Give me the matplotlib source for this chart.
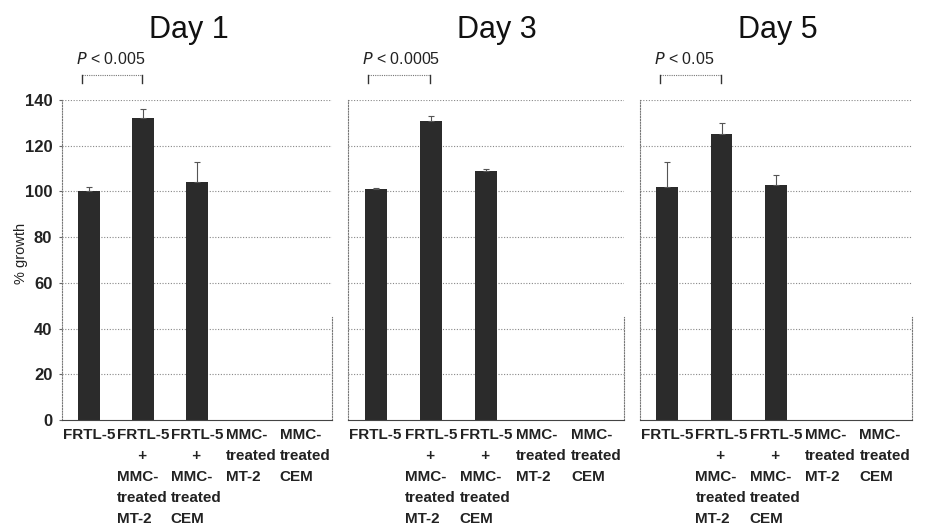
import matplotlib
matplotlib.use("Agg")
import matplotlib.pyplot as plt
import numpy as np

plt.rcParams['font.family'] = ['Liberation Sans', 'DejaVu Sans']

categories = ["FRTL-5", "FRTL-5\n     +\nMMC-\ntreated\nMT-2", "FRTL-5\n     +\nMMC-\ntreated\nCEM",
              "MMC-\ntreated\nMT-2", "MMC-\ntreated\nCEM"]
days = ["Day 1", "Day 3", "Day 5"]
values = {
    "Day 1": [100, 132, 104, 0, 0],
    "Day 3": [101, 131, 109, 0, 0],
    "Day 5": [102, 125, 103, 0, 0],
}
errors = {
    "Day 1": [2, 4, 9, 0, 0],
    "Day 3": [0.5, 2, 1, 0, 0],
    "Day 5": [11, 5, 4, 0, 0],
}
pvals = {"Day 1": "0.005", "Day 3": "0.0005", "Day 5": "0.05"}
yticks = [0, 20, 40, 60, 80, 100, 120, 140]

fig = plt.figure(figsize=(9.37, 5.27), dpi=100)
lefts = [62, 348, 640]
rights = [332, 624, 912]
title_x = [0.47, 0.54, 0.505]
W, H = 937, 527
bottom_px, top_px = 420, 100

x = np.arange(len(categories))
for i, day in enumerate(days):
    ax = fig.add_axes([lefts[i] / W, 1 - bottom_px / H,
                       (rights[i] - lefts[i]) / W, (bottom_px - top_px) / H])
    ax.set_xlim(-0.5, len(categories) - 0.5)
    ax.set_ylim(0, 140)
    ax.set_yticks(yticks)
    for yv in yticks[1:]:
        ax.axhline(yv, color='#888888', lw=0.8, ls=(0, (1, 1.5)), zorder=0)
    vals = values[day]
    errs = errors[day]
    ax.bar(x, vals, width=0.4, color='#2b2b2b', zorder=2)
    for xi, v, e in zip(x, vals, errs):
        if v > 0:
            ax.errorbar(xi, v, yerr=[[0], [e]], color='#555555', lw=0.8,
                        capsize=2, capthick=0.8, zorder=3)
    for sp in ax.spines.values():
        sp.set_linestyle((0, (1, 1.5)))
        sp.set_color('#777777')
        sp.set_linewidth(0.8)
    ax.spines['top'].set_visible(False)
    ax.spines['right'].set_bounds(0, 45)
    ax.spines['bottom'].set_linestyle('-')
    ax.spines['bottom'].set_color('#444444')
    ax.set_xticks(x)
    ax.set_xticklabels(categories, fontsize=11, fontweight='bold',
                       va='top', linespacing=1.62, color='#222222',
                       multialignment='left')
    ax.tick_params(axis='x', length=0, pad=6)
    if i == 0:
        ax.set_yticklabels([str(t) for t in yticks], fontsize=12, fontweight='bold',
                           color='#222222')
        ax.tick_params(axis='y', length=2, pad=5, color='#666666')
        ax.set_ylabel("% growth", fontsize=10.5, color='#222222', labelpad=6)
        ax.yaxis.set_label_coords(-0.125, 0.52)
    else:
        ax.set_yticklabels([])
        ax.tick_params(axis='y', length=0)
    ax.set_title(day, fontsize=22, pad=45, color='#111111', x=title_x[i])
    # significance bracket
    yb = 151
    xl, xr = -0.13, 0.98
    ax.plot([xl, xr], [yb, yb], color='#777777', lw=0.8, ls=(0, (1, 1)),
            clip_on=False)
    ax.plot([xl, xl], [yb - 3.5, yb], color='#333333', lw=1, clip_on=False)
    ax.plot([xr, xr], [yb - 3.5, yb], color='#333333', lw=1, clip_on=False)
    ax.text(-0.25, yb + 3.5, r"$P$ < " + pvals[day], fontsize=11.5, ha='left',
            va='bottom', color='#222222', clip_on=False)

fig.savefig("out.png", dpi=100, facecolor='white')
